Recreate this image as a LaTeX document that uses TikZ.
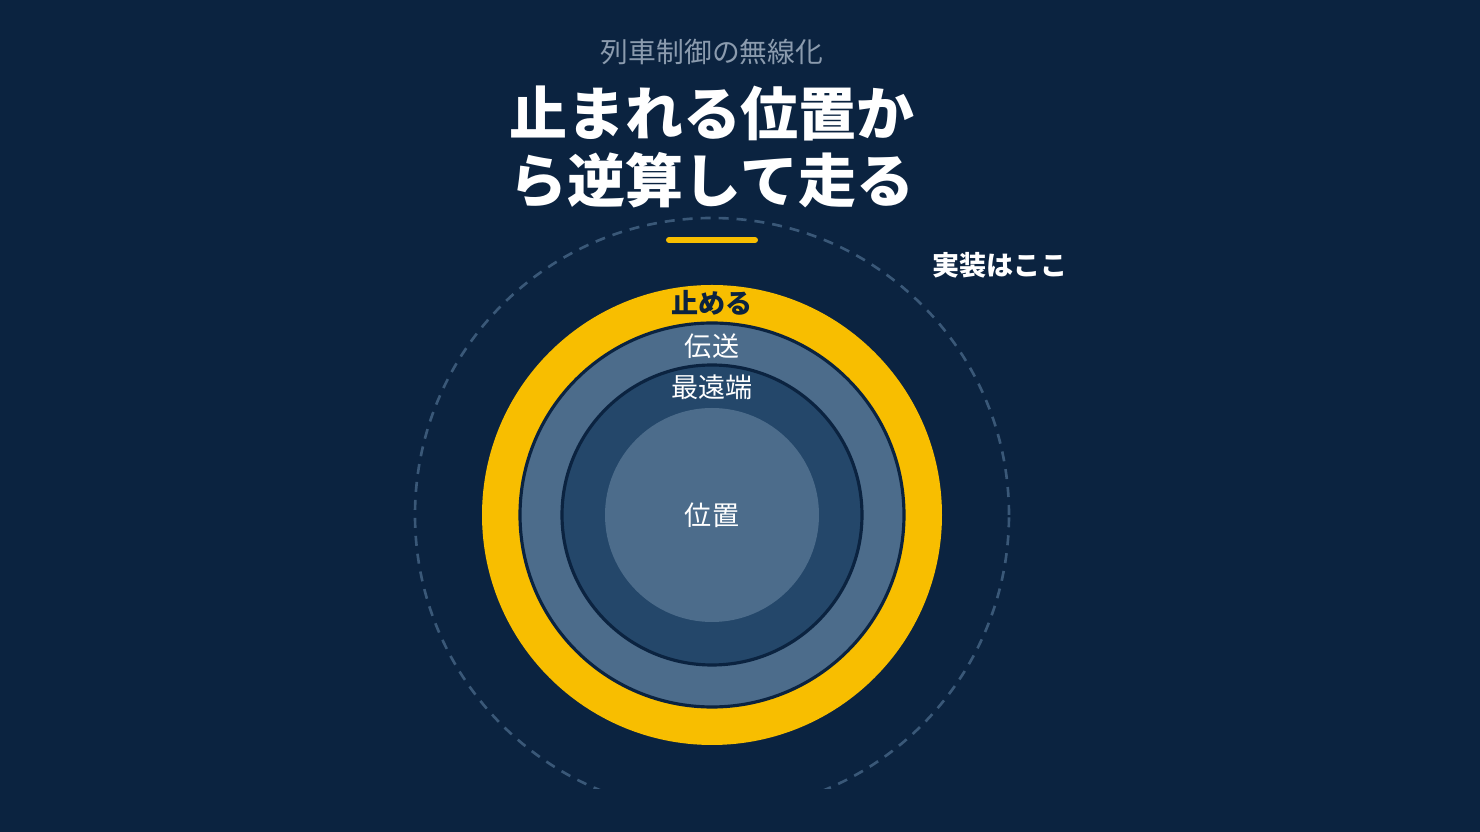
\documentclass[tikz,border=0pt]{standalone}
\usepackage{fontspec}
\usepackage{tikz}
\usetikzlibrary{shapes,arrows.meta}
\newfontfamily\jp{Noto Sans CJK JP}
\definecolor{bgnavy}{HTML}{0B2340}
\definecolor{ringgold}{HTML}{F8BE00}
\definecolor{ringsteel}{HTML}{4C6C8B}
\definecolor{ringdeep}{HTML}{24476A}
\definecolor{dashgray}{HTML}{3A5878}
\definecolor{subgray}{HTML}{8B9BAE}

\begin{document}
\begin{tikzpicture}
		\fill[bgnavy] (0,0) rectangle (14.8,-8.32);
		\useasboundingbox (0,0) rectangle (14.8,-8.32);
		\coordinate (c) at (7.12,-5.15);

		% outer dashed ring, cut off at the bottom
		\begin{scope}
			\clip (0,0) rectangle (14.8,-7.89);
			\draw[dashgray, line width=0.75pt, dash pattern=on 0.10cm off 0.08cm] (c) circle (2.97);
		\end{scope}

		\begin{scope}
            [
                every node/.style={circle, inner sep=0pt, outer sep=0pt},
				rim/.style = {draw=bgnavy, line width=0.9pt}
            ]
			\node(stop)[fill=ringgold, minimum size=4.60cm] at (c) {};
			\node(link)[fill=ringsteel, rim, minimum size=3.84cm] at (c) {};
			\node(edge)[fill=ringdeep, rim, minimum size=3.00cm] at (c) {};
			\node(pos)[fill=ringsteel, minimum size=2.14cm] at (c) {};
		\end{scope}

		\begin{scope}
            [
                every node/.style={font=\jp\fontsize{7.7}{9}\selectfont, text=white, inner sep=0pt},
				strong/.style = {font=\jp\bfseries\fontsize{7.7}{9}\selectfont}
            ]
			\node(sub)[text=subgray, font=\jp\fontsize{7.9}{9}\selectfont] at (7.12,-0.52) {列車制御の無線化};
			\node(title)[font=\jp\bfseries\fontsize{16.5}{19}\selectfont, align=center] at (7.12,-1.47) {止まれる位置か\\ら逆算して走る};
			\node(impl)[strong] at (10.00,-2.65) {実装はここ};

			\node(stoplbl)[strong, text=bgnavy] at (7.12,-3.03) {止める};
			\node(linklbl) at (7.12,-3.46) {伝送};
			\node(edgelbl) at (7.12,-3.87) {最遠端};
			\node(poslbl) at (c) {位置};
		\end{scope}

		\coordinate (barl) at (6.69,-2.40);
		\coordinate (barr) at (7.55,-2.40);
		\draw[ringgold, line width=1.7pt, line cap=round] (barl) -- (barr);
\end{tikzpicture}
\end{document}
